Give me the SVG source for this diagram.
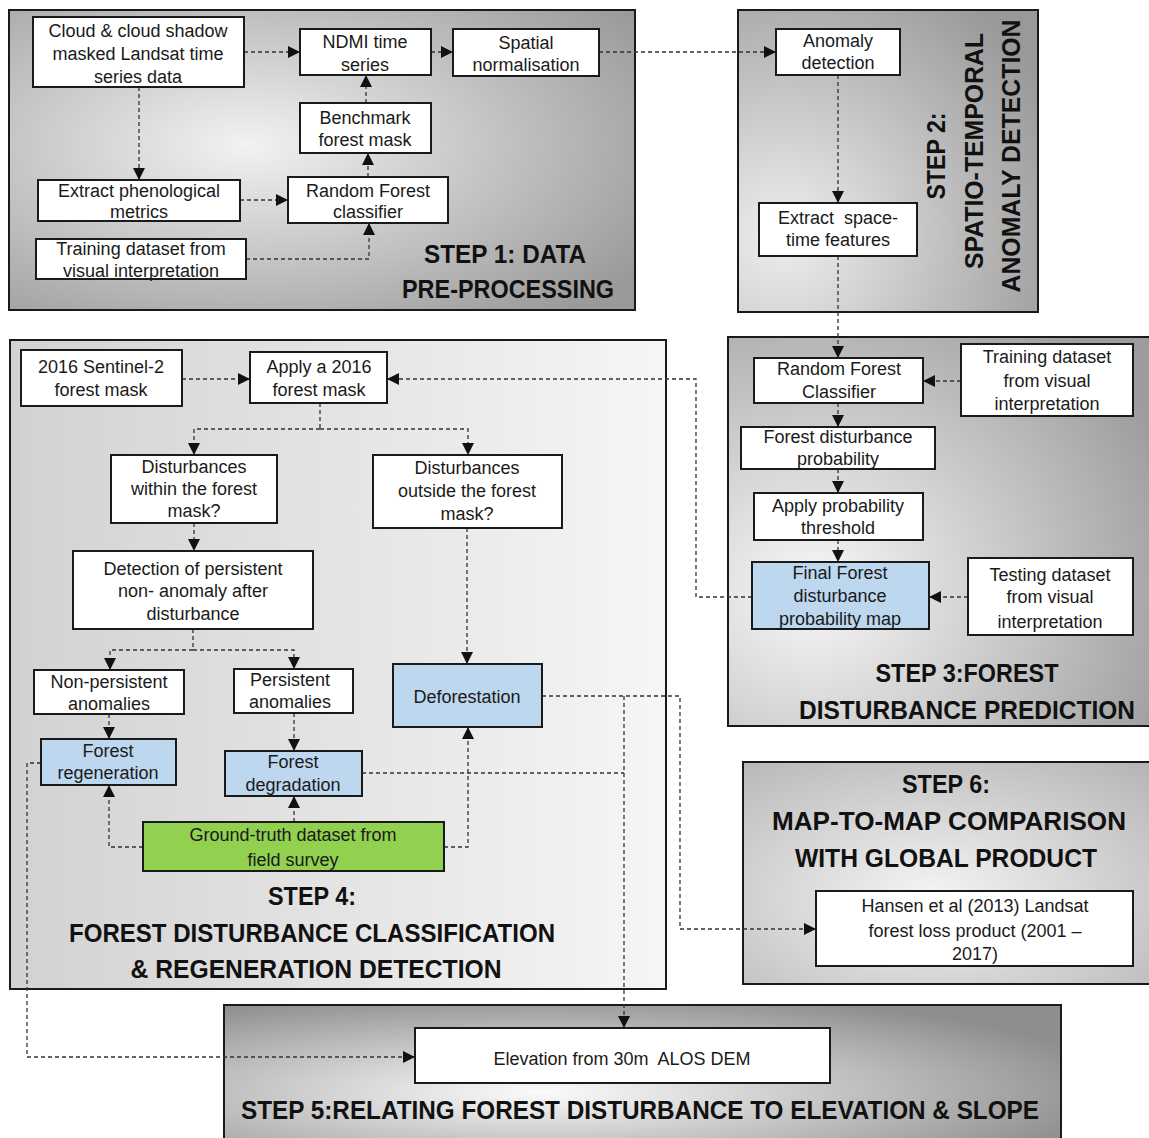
<svg xmlns="http://www.w3.org/2000/svg" width="1149" height="1138" viewBox="0 0 1149 1138">
<defs>
<style>
.panel{stroke:#1a1a1a;stroke-width:2}
.box{fill:#ffffff;stroke:#1a1a1a;stroke-width:2}
.blue{fill:#bdd7ee;stroke:#1a1a1a;stroke-width:2}
.green{fill:#92d050;stroke:#1a1a1a;stroke-width:2}
.t{font-family:"Liberation Sans",Arial,sans-serif;font-size:18px;fill:#1a1a1a;text-anchor:middle}
.h{font-family:"Liberation Sans",Arial,sans-serif;font-size:25px;font-weight:bold;fill:#111;text-anchor:middle}
.c{fill:none;stroke:#333;stroke-width:1.3;stroke-dasharray:4 3}
.a{marker-end:url(#arr)}
</style>
<marker id="arr" markerUnits="userSpaceOnUse" markerWidth="12" markerHeight="12" viewBox="0 0 12 12" refX="12" refY="6" orient="auto">
<path d="M0,0 L12,6 L0,12 z" fill="#111"/>
</marker>
<radialGradient id="g1" cx="0.38" cy="0.45" r="0.75">
<stop offset="0" stop-color="#f2f2f2"/><stop offset="1" stop-color="#9a9a9a"/>
</radialGradient>
<radialGradient id="g2" cx="0.15" cy="0.75" r="1.0">
<stop offset="0" stop-color="#eeeeee"/><stop offset="1" stop-color="#999999"/>
</radialGradient>
<radialGradient id="g3" cx="0.2" cy="0.65" r="0.9">
<stop offset="0" stop-color="#f8f8f8"/><stop offset="1" stop-color="#9c9c9c"/>
</radialGradient>
<linearGradient id="g4" x1="0" y1="0" x2="1" y2="0">
<stop offset="0" stop-color="#d2d2d2"/><stop offset="1" stop-color="#f6f6f6"/>
</linearGradient>
<radialGradient id="g6" cx="0.45" cy="0.6" r="0.8">
<stop offset="0" stop-color="#f4f4f4"/><stop offset="1" stop-color="#b4b4b4"/>
</radialGradient>
<radialGradient id="g5" cx="0.38" cy="0.6" r="0.7">
<stop offset="0" stop-color="#fbfbfb"/><stop offset="1" stop-color="#8e8e8e"/>
</radialGradient>
</defs>
<rect width="1149" height="1138" fill="#ffffff"/>

<g id="panels">
<rect id="panel1" class="panel" x="9" y="10" width="626" height="300" fill="url(#g1)"/>
<rect id="panel2" class="panel" x="738" y="10" width="300" height="302" fill="url(#g2)"/>
<rect id="panel3" class="panel" x="728" y="337" width="430" height="389" fill="url(#g3)"/>
<rect id="panel4" class="panel" x="10" y="340" width="656" height="649" fill="url(#g4)"/>
<rect id="panel6" class="panel" x="743" y="762" width="415" height="222" fill="url(#g6)"/>
<rect id="panel5" class="panel" x="224" y="1005" width="837" height="145" fill="url(#g5)"/>
</g>

<g id="connectors">
<path class="c a" d="M244,52 H300"/>
<path class="c a" d="M431,52 H453"/>
<path class="c a" d="M599,52 H776"/>
<path class="c a" d="M139,87 V180"/>
<path class="c a" d="M240,200 H288"/>
<path class="c a" d="M246,259 H369 V223"/>
<path class="c a" d="M368,177 V153"/>
<path class="c a" d="M366,103 V75"/>
<path class="c a" d="M838,75 V203"/>
<path class="c a" d="M838,256 V358"/>
<path class="c a" d="M961,381 H923"/>
<path class="c a" d="M838,403 V427"/>
<path class="c a" d="M838,469 V493"/>
<path class="c a" d="M838,540 V562"/>
<path class="c a" d="M968,597 H929"/>
<path class="c a" d="M752,597 H696 V379 H387"/>
<path class="c a" d="M182,379 H250"/>
<path class="c" d="M320,403 V429"/>
<path class="c a" d="M320,429 H194 V455"/>
<path class="c a" d="M320,429 H468 V455"/>
<path class="c a" d="M194,523 V551"/>
<path class="c" d="M193,629 V650"/>
<path class="c a" d="M193,650 H110 V670"/>
<path class="c a" d="M193,650 H294 V669"/>
<path class="c a" d="M467,528 V664"/>
<path class="c a" d="M109,714 V739"/>
<path class="c a" d="M294,713 V751"/>
<path class="c a" d="M143,847 H109 V785"/>
<path class="c a" d="M294,822 V796"/>
<path class="c a" d="M444,847 H468 V727"/>
<path class="c a" d="M542,696 H680 V929 H816"/>
<path class="c a" d="M624,696 V1028"/>
<path class="c" d="M362,773 H624"/>
<path class="c a" d="M41,763 H27 V1057 H415"/>
</g>

<g id="n-cloud"><rect class="box" x="33" y="17" width="211" height="70"/>
<text class="t" x="138" y="37">Cloud &amp; cloud shadow</text><text class="t" x="138" y="60">masked Landsat time</text><text class="t" x="138" y="83">series data</text></g>
<g id="n-ndmi"><rect class="box" x="300" y="29" width="131" height="46"/>
<text class="t" x="365" y="48">NDMI time</text><text class="t" x="365" y="71">series</text></g>
<g id="n-spatial"><rect class="box" x="453" y="29" width="146" height="47"/>
<text class="t" x="526" y="49">Spatial</text><text class="t" x="526" y="71">normalisation</text></g>
<g id="n-benchmark"><rect class="box" x="300" y="103" width="131" height="50"/>
<text class="t" x="365" y="124">Benchmark</text><text class="t" x="365" y="146">forest mask</text></g>
<g id="n-pheno"><rect class="box" x="38" y="180" width="202" height="41"/>
<text class="t" x="139" y="197">Extract phenological</text><text class="t" x="139" y="218">metrics</text></g>
<g id="n-rf1"><rect class="box" x="288" y="177" width="160" height="46"/>
<text class="t" x="368" y="197">Random Forest</text><text class="t" x="368" y="218">classifier</text></g>
<g id="n-train1"><rect class="box" x="36" y="239" width="210" height="40"/>
<text class="t" x="141" y="255">Training dataset from</text><text class="t" x="141" y="277">visual interpretation</text></g>

<g id="n-anomaly"><rect class="box" x="776" y="29" width="124" height="46"/>
<text class="t" x="838" y="47">Anomaly</text><text class="t" x="838" y="69">detection</text></g>
<g id="n-spacetime"><rect class="box" x="759" y="203" width="158" height="53"/>
<text class="t" x="838" y="224" xml:space="preserve">Extract  space-</text><text class="t" x="838" y="246">time features</text></g>

<g id="n-rf3"><rect class="box" x="754" y="358" width="169" height="45"/>
<text class="t" x="839" y="375">Random Forest</text><text class="t" x="839" y="398">Classifier</text></g>
<g id="n-train3"><rect class="box" x="961" y="344" width="172" height="72"/>
<text class="t" x="1047" y="363">Training dataset</text><text class="t" x="1047" y="387">from visual</text><text class="t" x="1047" y="410">interpretation</text></g>
<g id="n-fdp"><rect class="box" x="741" y="427" width="194" height="42"/>
<text class="t" x="838" y="443">Forest disturbance</text><text class="t" x="838" y="465">probability</text></g>
<g id="n-thresh"><rect class="box" x="754" y="493" width="169" height="47"/>
<text class="t" x="838" y="512">Apply probability</text><text class="t" x="838" y="534">threshold</text></g>
<g id="n-final"><rect class="blue" x="752" y="562" width="177" height="67"/>
<text class="t" x="840" y="579">Final Forest</text><text class="t" x="840" y="602">disturbance</text><text class="t" x="840" y="625">probability map</text></g>
<g id="n-test"><rect class="box" x="968" y="558" width="165" height="77"/>
<text class="t" x="1050" y="581">Testing dataset</text><text class="t" x="1050" y="603">from visual</text><text class="t" x="1050" y="628">interpretation</text></g>

<g id="n-sentinel"><rect class="box" x="21" y="350" width="161" height="56"/>
<text class="t" x="101" y="373">2016 Sentinel-2</text><text class="t" x="101" y="396">forest mask</text></g>
<g id="n-apply"><rect class="box" x="250" y="352" width="137" height="51"/>
<text class="t" x="319" y="373">Apply a 2016</text><text class="t" x="319" y="396">forest mask</text></g>
<g id="n-within"><rect class="box" x="111" y="455" width="166" height="68"/>
<text class="t" x="194" y="473">Disturbances</text><text class="t" x="194" y="495">within the forest</text><text class="t" x="194" y="517">mask?</text></g>
<g id="n-outside"><rect class="box" x="373" y="455" width="189" height="73"/>
<text class="t" x="467" y="474">Disturbances</text><text class="t" x="467" y="497">outside the forest</text><text class="t" x="467" y="520">mask?</text></g>
<g id="n-detect"><rect class="box" x="73" y="551" width="240" height="78"/>
<text class="t" x="193" y="575">Detection of persistent</text><text class="t" x="193" y="597">non- anomaly after</text><text class="t" x="193" y="620">disturbance</text></g>
<g id="n-nonpers"><rect class="box" x="34" y="670" width="150" height="44"/>
<text class="t" x="109" y="688">Non-persistent</text><text class="t" x="109" y="710">anomalies</text></g>
<g id="n-pers"><rect class="box" x="234" y="669" width="119" height="44"/>
<text class="t" x="290" y="686">Persistent</text><text class="t" x="290" y="708">anomalies</text></g>
<g id="n-defor"><rect class="blue" x="393" y="664" width="149" height="63"/>
<text class="t" x="467" y="703">Deforestation</text></g>
<g id="n-regen"><rect class="blue" x="41" y="739" width="135" height="46"/>
<text class="t" x="108" y="757">Forest</text><text class="t" x="108" y="779">regeneration</text></g>
<g id="n-degr"><rect class="blue" x="225" y="751" width="137" height="45"/>
<text class="t" x="293" y="768">Forest</text><text class="t" x="293" y="791">degradation</text></g>
<g id="n-ground"><rect class="green" x="143" y="822" width="301" height="49"/>
<text class="t" x="293" y="841">Ground-truth dataset from</text><text class="t" x="293" y="866">field survey</text></g>

<g id="n-hansen"><rect class="box" x="816" y="891" width="317" height="75"/>
<text class="t" x="975" y="912">Hansen et al (2013) Landsat</text><text class="t" x="975" y="937">forest loss product (2001 –</text><text class="t" x="975" y="960">2017)</text></g>
<g id="n-elev"><rect class="box" x="415" y="1028" width="415" height="55"/>
<text class="t" x="622" y="1065" xml:space="preserve">Elevation from 30m  ALOS DEM</text></g>

<g id="titles">
<text class="h" x="505" y="263" textLength="162" lengthAdjust="spacingAndGlyphs">STEP 1: DATA</text>
<text class="h" x="508" y="298" textLength="212" lengthAdjust="spacingAndGlyphs">PRE-PROCESSING</text>
<text class="h" transform="translate(945,156) rotate(-90)" textLength="87" lengthAdjust="spacingAndGlyphs">STEP 2:</text>
<text class="h" transform="translate(983,151) rotate(-90)" textLength="236" lengthAdjust="spacingAndGlyphs">SPATIO-TEMPORAL</text>
<text class="h" transform="translate(1020,156) rotate(-90)" textLength="273" lengthAdjust="spacingAndGlyphs">ANOMALY DETECTION</text>
<text class="h" x="967" y="682" textLength="183" lengthAdjust="spacingAndGlyphs">STEP 3:FOREST</text>
<text class="h" x="967" y="719" textLength="336" lengthAdjust="spacingAndGlyphs">DISTURBANCE PREDICTION</text>
<text class="h" x="312" y="905" textLength="88" lengthAdjust="spacingAndGlyphs">STEP 4:</text>
<text class="h" x="312" y="942" textLength="486" lengthAdjust="spacingAndGlyphs">FOREST DISTURBANCE CLASSIFICATION</text>
<text class="h" x="316" y="978" textLength="371" lengthAdjust="spacingAndGlyphs">&amp; REGENERATION DETECTION</text>
<text class="h" x="946" y="793" textLength="88" lengthAdjust="spacingAndGlyphs">STEP 6:</text>
<text class="h" x="949" y="830" textLength="354" lengthAdjust="spacingAndGlyphs">MAP-TO-MAP COMPARISON</text>
<text class="h" x="946" y="867" textLength="302" lengthAdjust="spacingAndGlyphs">WITH GLOBAL PRODUCT</text>
<text class="h" x="640" y="1119" textLength="798" lengthAdjust="spacingAndGlyphs">STEP 5:RELATING FOREST DISTURBANCE TO ELEVATION &amp; SLOPE</text>
</g>
</svg>
